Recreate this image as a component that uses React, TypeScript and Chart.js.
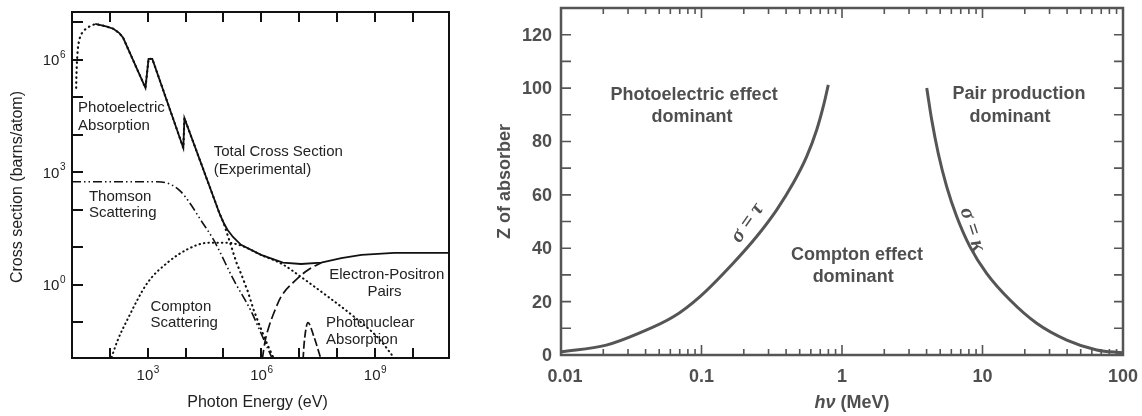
import React, { useEffect, useRef } from "react";
import { Chart, registerables } from "chart.js";
Chart.register(...registerables);

// ---------- Left chart: cross sections vs photon energy ----------
const totalE = [41, 79, 123, 178, 224, 870, 1050, 1320, 8700, 9300, 7.9e4, 1.0e5, 1.26e5, 1.78e5, 2.9e5, 9.8e5, 3.7e6, 1.12e7, 3.8e7, 1.29e8, 4.4e8, 3.2e9, 9.1e10];
const totalS = [9.1e6, 7.9e6, 6.8e6, 5.2e6, 3.9e6, 1.8e5, 1.07e6, 1.07e6, 4470, 2.8e4, 79, 46, 30, 19, 11.7, 6.3, 3.9, 3.6, 3.9, 5.2, 6.3, 7.1, 7.1];

const photoE = [12.9, 13.0, 13.2, 13.5, 14.0, 14.6, 15.8, 17.8, 21.4, 26.3, 33.1, 41, 79, 123, 178, 224, 870, 1050, 1320, 8700, 9300, 7.9e4, 1.0e5, 1.29e5, 1.58e5, 1.86e5, 2.29e5, 2.9e5, 4.4e5, 6.3e5, 9.8e5, 1.48e6, 2.14e6];
const photoS = [1.8e5, 3.2e5, 5.0e5, 8.9e5, 1.58e6, 2.5e6, 3.7e6, 5.0e6, 6.3e6, 7.4e6, 8.3e6, 9.1e6, 7.9e6, 6.8e6, 5.2e6, 3.9e6, 1.8e5, 1.07e6, 1.07e6, 4470, 2.8e4, 79, 46, 20.9, 11.2, 6.6, 3.5, 2.0, 0.66, 0.21, 0.066, 0.024, 0.0107];

const thomsonE = [10, 1780, 3980, 7240, 1.26e4, 2.5e4, 5.5e4, 1.86e5, 5.2e5, 1.17e6, 2.0e6];
const thomsonS = [562, 562, 479, 316, 158, 54, 15.8, 1.35, 0.21, 0.034, 0.01];

const comptonE = [102, 158, 288, 977, 3300, 1.12e4, 3.8e4, 1.29e5, 2.9e5, 9.8e5, 3.7e6, 1.12e7, 5.8e7, 2.8e8, 1.23e9, 3.5e9];
const comptonS = [0.009, 0.032, 0.117, 1.12, 3.9, 8.9, 13.2, 13.2, 11.2, 6.3, 3.5, 1.62, 0.48, 0.141, 0.038, 0.01];

const pairsE = [1.05e6, 1.26e6, 1.58e6, 2.24e6, 3.3e6, 7.2e6, 1.7e7, 3.8e7];
const pairsS = [0.01, 0.032, 0.076, 0.2, 0.48, 1.2, 2.5, 3.9];

const nuclearE = [1.26e7, 1.35e7, 1.7e7, 2.45e7, 3.8e7];
const nuclearS = [0.01, 0.028, 0.098, 0.041, 0.01];

const leftXTickExps = [2, 3, 4, 5, 6, 7, 8, 9, 10];
const leftXLabelExps = [3, 6, 9];
const leftYTickExps = [-1, 0, 1, 2, 3, 4, 5, 6, 7];
const leftYLabelExps = [0, 3, 6];

const leftNotes = [
  { t: "Photoelectric", x: 14.5, y: 5.2e4, a: "left" },
  { t: "Absorption", x: 14.5, y: 1.74e4, a: "left" },
  { t: "Total Cross Section", x: 5.5e4, y: 3550, a: "left" },
  { t: "(Experimental)", x: 5.5e4, y: 1175, a: "left" },
  { t: "Thomson", x: 28, y: 224, a: "left" },
  { t: "Scattering", x: 28, y: 83, a: "left" },
  { t: "Compton", x: 1175, y: 0.257, a: "left" },
  { t: "Scattering", x: 1175, y: 0.098, a: "left" },
  { t: "Electron-Positron", x: 6.2e7, y: 1.86, a: "left" },
  { t: "Pairs", x: 1.78e9, y: 0.65, a: "center" },
  { t: "Photonuclear", x: 5.1e7, y: 0.098, a: "left" },
  { t: "Absorption", x: 5.1e7, y: 0.034, a: "left" },
];

// ---------- Right chart: dominant interaction regions ----------
const tauE = [0.01, 0.021, 0.036, 0.063, 0.098, 0.168, 0.247, 0.343, 0.45, 0.561, 0.661, 0.736, 0.799];
const tauZ = [1.2, 3.7, 8.2, 14.3, 22, 34.4, 44.4, 54.4, 64.4, 74.4, 84.4, 93.1, 101.2];

const kappaE = [4.01, 4.35, 4.84, 5.56, 6.55, 8.14, 10.7, 15.7, 24.3, 39.8, 65, 100];
const kappaZ = [100, 88.1, 75.6, 63.1, 51.9, 40.6, 30.6, 20.6, 11.9, 5.6, 1.9, 0.8];

const rightXMajor = [0.01, 0.1, 1, 10, 100];
const rightXLabels = ["0.01", "0.1", "1", "10", "100"];
const rightXMinorFactors = [2, 3, 4, 5, 6, 7, 8, 9];
const rightYTicks = [10, 20, 30, 40, 50, 60, 70, 80, 90, 100, 110, 120];
const rightYLabels = [0, 20, 40, 60, 80, 100, 120];

const rightNotes = [
  { t: "Photoelectric effect", x: 0.0886, y: 97.3, r: 0 },
  { t: "dominant", x: 0.0857, y: 89.2, r: 0 },
  { t: "Pair production", x: 18.2, y: 97.9, r: 0 },
  { t: "dominant", x: 15.7, y: 89.2, r: 0 },
  { t: "Compton effect", x: 1.28, y: 37.5, r: 0 },
  { t: "dominant", x: 1.2, y: 29.2, r: 0 },
  { t: "σ = τ", x: 0.212, y: 49.5, r: -55 },
  { t: "σ = κ", x: 8.45, y: 47.0, r: 72 },
];

const pts = (xs: number[], ys: number[]) => xs.map((x, i) => ({ x, y: ys[i] }));

const LFONT = '"Liberation Sans", Arial, sans-serif';

const leftAxes = {
  id: "leftAxes",
  afterDraw(chart: any) {
    const ctx = chart.ctx;
    const { left, right, top, bottom } = chart.chartArea;
    const xs = chart.scales.x;
    const ys = chart.scales.y;
    ctx.save();
    ctx.strokeStyle = "#111";
    ctx.lineWidth = 2;
    ctx.strokeRect(left, top, right - left, bottom - top);
    ctx.beginPath();
    for (const e of leftXTickExps) {
      const x = Math.round(xs.getPixelForValue(Math.pow(10, e)));
      ctx.moveTo(x, bottom);
      ctx.lineTo(x, bottom - 10);
      ctx.moveTo(x, top);
      ctx.lineTo(x, top + 10);
    }
    for (const e of leftYTickExps) {
      const y = Math.round(ys.getPixelForValue(Math.pow(10, e)));
      ctx.moveTo(left, y);
      ctx.lineTo(left + 11, y);
    }
    ctx.stroke();
    ctx.fillStyle = "#222";
    const pow = (e: number, x: number, y: number, align: string) => {
      ctx.font = `15px ${LFONT}`;
      const w1 = ctx.measureText("10").width;
      ctx.font = `10px ${LFONT}`;
      const w2 = ctx.measureText(String(e)).width;
      const w = w1 + w2;
      const x0 = align === "center" ? x - w / 2 : x - w;
      ctx.textBaseline = "middle";
      ctx.textAlign = "left";
      ctx.font = `15px ${LFONT}`;
      ctx.fillText("10", x0, y);
      ctx.font = `10px ${LFONT}`;
      ctx.fillText(String(e), x0 + w1 + 0.5, y - 6);
    };
    for (const e of leftXLabelExps) {
      pow(e, xs.getPixelForValue(Math.pow(10, e)), 376, "center");
    }
    for (const e of leftYLabelExps) {
      pow(e, left - 7, ys.getPixelForValue(Math.pow(10, e)) + 1, "right");
    }
    ctx.font = `16px ${LFONT}`;
    ctx.textAlign = "center";
    ctx.textBaseline = "middle";
    ctx.fillText("Photon Energy (eV)", (left + right) / 2 - 3, 403);
    ctx.save();
    ctx.translate(18, (top + bottom) / 2 + 2);
    ctx.rotate(-Math.PI / 2);
    ctx.fillText("Cross section (barns/atom)", 0, 0);
    ctx.restore();
    ctx.font = `15px ${LFONT}`;
    for (const n of leftNotes) {
      ctx.textAlign = n.a;
      ctx.fillText(n.t, xs.getPixelForValue(n.x), ys.getPixelForValue(n.y));
    }
    ctx.restore();
  },
};

const GREY = "#555";
const TXT = "#4f4f4f";

const rightAxes = {
  id: "rightAxes",
  afterDraw(chart: any) {
    const ctx = chart.ctx;
    const { left, right, top, bottom } = chart.chartArea;
    const xs = chart.scales.x;
    const ys = chart.scales.y;
    ctx.save();
    ctx.strokeStyle = GREY;
    ctx.lineWidth = 2.5;
    ctx.strokeRect(left, top, right - left, bottom - top);
    ctx.lineWidth = 1.6;
    ctx.beginPath();
    for (let i = 0; i < rightXMajor.length; i++) {
      const v = rightXMajor[i];
      const x = xs.getPixelForValue(v);
      ctx.moveTo(x, bottom);
      ctx.lineTo(x, bottom - 10);
      ctx.moveTo(x, top);
      ctx.lineTo(x, top + 10);
      if (i < rightXMajor.length - 1) {
        for (const f of rightXMinorFactors) {
          const xm = xs.getPixelForValue(v * f);
          ctx.moveTo(xm, bottom);
          ctx.lineTo(xm, bottom - 6);
          ctx.moveTo(xm, top);
          ctx.lineTo(xm, top + 6);
        }
      }
    }
    for (const v of rightYTicks) {
      const y = ys.getPixelForValue(v);
      ctx.moveTo(left, y);
      ctx.lineTo(left + 10, y);
      ctx.moveTo(right, y);
      ctx.lineTo(right - 9, y);
    }
    ctx.stroke();
    ctx.fillStyle = TXT;
    ctx.font = `bold 18px ${LFONT}`;
    ctx.textBaseline = "middle";
    ctx.textAlign = "right";
    for (const v of rightYLabels) {
      ctx.fillText(String(v), left - 9, ys.getPixelForValue(v) + 1);
    }
    ctx.textAlign = "center";
    rightXMajor.forEach((v, i) => {
      let x = xs.getPixelForValue(v);
      if (i === 0) x += 4;
      ctx.fillText(rightXLabels[i], x, 377);
    });
    // axis titles
    ctx.font = `bold 18px ${LFONT}`;
    ctx.save();
    ctx.translate(35, (top + bottom) / 2);
    ctx.rotate(-Math.PI / 2);
    ctx.textAlign = "center";
    ctx.fillText("Z of absorber", 0, 0);
    ctx.restore();
    ctx.font = `italic bold 18px ${LFONT}`;
    const a = "hν";
    const wa = ctx.measureText(a).width;
    ctx.font = `bold 18px ${LFONT}`;
    const b = " (MeV)";
    const wb = ctx.measureText(b).width;
    const cx = (left + right) / 2 + 10;
    const x0 = cx - (wa + wb) / 2;
    ctx.textAlign = "left";
    ctx.font = `italic bold 18px ${LFONT}`;
    ctx.fillText(a, x0, 403);
    ctx.font = `bold 18px ${LFONT}`;
    ctx.fillText(b, x0 + wa, 403);
    // annotations
    ctx.textAlign = "center";
    for (const n of rightNotes) {
      const x = xs.getPixelForValue(n.x);
      const y = ys.getPixelForValue(n.y);
      ctx.save();
      ctx.translate(x, y);
      ctx.rotate((n.r * Math.PI) / 180);
      ctx.font = n.r ? `italic bold 21px "Liberation Serif", serif` : `bold 18px ${LFONT}`;
      ctx.fillText(n.t, 0, 0);
      ctx.restore();
    }
    ctx.restore();
  },
};

export default function App() {
  const leftRef = useRef<HTMLCanvasElement>(null);
  const rightRef = useRef<HTMLCanvasElement>(null);

  useEffect(() => {
    const line = (data: any[], dash: number[], width: number, cap = "butt", mono = true) => ({
      data,
      borderColor: "#111",
      borderWidth: width,
      borderDash: dash,
      borderCapStyle: cap,
      pointRadius: 0,
      fill: false,
      tension: mono ? 0.4 : 0,
      cubicInterpolationMode: mono ? "monotone" : "default",
    });
    const c1 = new Chart(leftRef.current!, {
      type: "line",
      data: {
        datasets: [
          line(pts(totalE, totalS), [], 1.8, "butt", false),
          line(pts(photoE, photoS), [0.5, 4.5], 2.2, "round", false),
          line(pts(thomsonE, thomsonS), [9, 3, 1.5, 3, 1.5, 3], 1.6, "butt", true),
          line(pts(comptonE, comptonS), [0.5, 4], 2, "round", true),
          line(pts(pairsE, pairsS), [10, 4], 1.7, "butt", true),
          line(pts(nuclearE, nuclearS), [8, 3], 1.7, "butt", true),
        ] as any,
      },
      options: {
        responsive: false,
        animation: false,
        devicePixelRatio: 1,
        layout: { padding: { left: 72, top: 12, right: 11, bottom: 58 } },
        plugins: { legend: { display: false }, tooltip: { enabled: false } },
        scales: {
          x: { type: "logarithmic", min: 10, max: 9e10, display: false },
          y: { type: "logarithmic", min: 0.0112, max: 1.9e7, display: false },
        },
      } as any,
      plugins: [leftAxes],
    });

    const curve = (data: any[]) => ({
      data,
      borderColor: GREY,
      borderWidth: 3,
      pointRadius: 0,
      fill: false,
      tension: 0.4,
      cubicInterpolationMode: "monotone",
    });
    const c2 = new Chart(rightRef.current!, {
      type: "line",
      data: { datasets: [curve(pts(tauE, tauZ)), curve(pts(kappaE, kappaZ))] as any },
      options: {
        responsive: false,
        animation: false,
        devicePixelRatio: 1,
        layout: { padding: { left: 91, top: 8, right: 19, bottom: 61 } },
        plugins: { legend: { display: false }, tooltip: { enabled: false } },
        scales: {
          x: { type: "logarithmic", min: 0.01, max: 100, display: false },
          y: { type: "linear", min: 0, max: 130, display: false },
        },
      } as any,
      plugins: [rightAxes],
    });
    return () => {
      c1.destroy();
      c2.destroy();
    };
  }, []);

  return (
    <div style={{ position: "fixed", left: 0, top: 0, width: 1142, height: 416, background: "#fff" }}>
      <canvas ref={leftRef} width={460} height={416} style={{ position: "absolute", left: 0, top: 0, width: 460, height: 416 }} />
      <canvas ref={rightRef} width={672} height={416} style={{ position: "absolute", left: 470, top: 0, width: 672, height: 416 }} />
    </div>
  );
}
